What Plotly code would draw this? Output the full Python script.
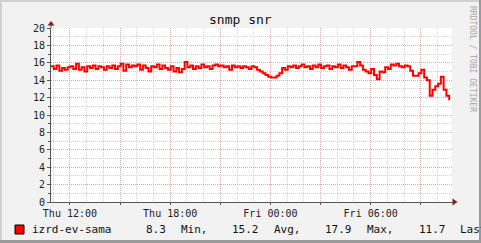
import plotly.graph_objects as go
import pandas as pd

# ---- data ----
start_time = "2024-01-04 10:52"
end_time = "2024-01-05 10:52"
step_minutes = 10
snr_values = [
    15.6, 15.3, 15.7, 15.1, 15.4, 15.2, 15.5, 15.6, 15.3, 15.9,
    15.2, 15.5, 15.0, 15.6, 15.4, 15.7, 15.3, 15.6, 15.5, 15.2,
    15.6, 15.4, 15.7, 15.3, 15.6, 15.9, 15.1, 15.8, 15.5, 15.7,
    15.6, 15.8, 15.2, 15.7, 15.4, 15.0, 15.6, 15.5, 15.8, 15.3,
    15.7, 15.4, 15.2, 15.6, 15.0, 15.4, 14.9, 15.3, 16.1, 15.5,
    15.7, 15.3, 15.6, 15.4, 15.8, 15.5, 15.6, 15.3, 15.7, 15.8,
    15.6, 15.7, 15.5, 15.6, 15.2, 15.7, 15.5, 15.6, 15.4, 15.6,
    15.5, 15.3, 15.6, 15.5, 15.2, 15.0, 14.8, 14.6, 14.4, 14.3,
    14.3, 14.5, 14.8, 15.4, 15.2, 15.6, 15.5, 15.7, 15.4, 15.6,
    15.8, 15.5, 15.6, 15.3, 15.7, 15.5, 15.8, 15.4, 15.6, 15.7,
    15.3, 15.6, 15.5, 15.8, 15.4, 15.7, 15.5, 15.2, 15.6,
    15.6, 16.1, 15.7, 15.2, 15.0, 14.8, 15.3, 14.6, 14.1, 15.0,
    14.9, 15.5, 15.3, 15.8, 15.7, 15.9, 15.6, 15.5, 15.7, 15.6,
    15.1, 14.5, 14.5, 14.8, 15.2, 14.3, 14.0, 12.2, 12.9, 13.3,
    13.6, 14.4, 12.9, 12.2, 11.7,
]
series_name = "izrd-ev-sama"
legend_parts = ["8.3", "Min,", "15.2", "Avg,", "17.9", "Max,", "11.7", "Last"]
tick_times = ["2024-01-04 12:00", "2024-01-04 15:00", "2024-01-04 18:00", "2024-01-04 21:00",
              "2024-01-05 00:00", "2024-01-05 03:00", "2024-01-05 06:00", "2024-01-05 09:00"]
tick_labels = ["Thu 12:00", "", "Thu 18:00", "", "Fri 00:00", "", "Fri 06:00", ""]
y_ticks = [0, 2, 4, 6, 8, 10, 12, 14, 16, 18, 20]

times = pd.date_range(start_time, periods=len(snr_values), freq=f"{step_minutes}min")

# ---- geometry ----
W, H = 481, 243
L, R, T, B = 51, 29, 28, 41
pw, ph = W - L - R, H - T - B

def px(x):
    return (x - L) / pw

def py(y):
    return (H - B - y) / ph

MONO = "DejaVu Sans Mono"

fig = go.Figure()
fig.add_trace(go.Scatter(
    x=times, y=snr_values, mode="lines",
    line=dict(color="#FF0000", width=2, shape="hv"),
    showlegend=False, hoverinfo="skip",
))

fig.update_layout(
    width=W, height=H,
    margin=dict(l=L, r=R, t=T, b=B),
    paper_bgcolor="#F2F2F2",
    plot_bgcolor="#FFFFFF",
    showlegend=False,
    xaxis=dict(
        range=[start_time, end_time],
        tickmode="array", tickvals=tick_times, ticktext=tick_labels,
        showgrid=True, gridcolor="#E3A5A5", griddash="1px,1px", gridwidth=1,
        minor=dict(tickmode="linear", tick0="2024-01-04 11:00", dtick=3600000,
                   showgrid=True, gridcolor="#D2D2D2", griddash="1px,1px", gridwidth=1,
                   ticks=""),
        ticks="outside", ticklen=2, tickcolor="#555555",
        showline=True, linecolor="#555555", linewidth=1,
        zeroline=False,
        tickfont=dict(family=MONO, size=10, color="#222222"),
        fixedrange=True,
    ),
    yaxis=dict(
        range=[0, 20],
        tickmode="array", tickvals=y_ticks,
        showgrid=True, gridcolor="#E3A5A5", griddash="1px,1px", gridwidth=1,
        minor=dict(tickmode="linear", tick0=0, dtick=1,
                   showgrid=True, gridcolor="#D2D2D2", griddash="1px,1px", gridwidth=1,
                   ticks="outside", ticklen=2, tickcolor="#555555"),
        ticks="outside", ticklen=3, tickcolor="#555555",
        showline=True, linecolor="#555555", linewidth=1,
        zeroline=False,
        tickfont=dict(family=MONO, size=10, color="#222222"),
        fixedrange=True,
    ),
)

shapes = []
# frame
shapes.append(dict(type="rect", xref="paper", yref="paper", x0=px(0), x1=px(W), y0=py(0), y1=py(2),
                   fillcolor="#D0D0D0", line=dict(width=0), layer="above"))
shapes.append(dict(type="rect", xref="paper", yref="paper", x0=px(0), x1=px(2), y0=py(0), y1=py(H),
                   fillcolor="#D0D0D0", line=dict(width=0), layer="above"))
shapes.append(dict(type="rect", xref="paper", yref="paper", x0=px(0), x1=px(W), y0=py(H - 3), y1=py(H),
                   fillcolor="#9A9A9A", line=dict(width=0), layer="above"))
shapes.append(dict(type="rect", xref="paper", yref="paper", x0=px(W - 2), x1=px(W), y0=py(0), y1=py(H),
                   fillcolor="#9A9A9A", line=dict(width=0), layer="above"))
# axis extensions and arrows
shapes.append(dict(type="line", xref="paper", yref="paper", x0=0, x1=0, y0=1, y1=py(24),
                   line=dict(color="#555555", width=1), layer="above"))
shapes.append(dict(type="line", xref="paper", yref="paper", x0=1, x1=px(455), y0=0, y1=0,
                   line=dict(color="#555555", width=1), layer="above"))
shapes.append(dict(type="path", xref="paper", yref="paper",
                   path=f"M {px(47.5)} {py(25.5)} L {px(54.5)} {py(25.5)} L {px(51)} {py(21)} Z",
                   fillcolor="#8B1A1A", line=dict(width=0), layer="above"))
shapes.append(dict(type="path", xref="paper", yref="paper",
                   path=f"M {px(452.5)} {py(198.5)} L {px(452.5)} {py(205.5)} L {px(457.5)} {py(202)} Z",
                   fillcolor="#8B1A1A", line=dict(width=0), layer="above"))
# legend swatch
shapes.append(dict(type="rect", xref="paper", yref="paper", x0=px(15), x1=px(24), y0=py(225), y1=py(234),
                   fillcolor="#FF0000", line=dict(color="#000000", width=1), layer="above"))
fig.update_layout(shapes=shapes)

ann = []
ann.append(dict(text="snmp snr", xref="paper", yref="paper", x=px(240.5), y=py(19.5),
                xanchor="center", yanchor="middle", showarrow=False,
                font=dict(family=MONO, size=13, color="#111111")))
ann.append(dict(text="RRDTOOL / TOBI OETIKER", xref="paper", yref="paper", x=px(472), y=py(59),
                xanchor="center", yanchor="middle", showarrow=False, textangle=90,
                font=dict(family=MONO, size=8, color="#A8A8A8")))
legend_x = [30, 144, 179, 230, 272, 323, 365, 417, 458]
for xx, txt in zip(legend_x, [series_name] + legend_parts):
    ann.append(dict(text=txt, xref="paper", yref="paper", x=px(xx), y=py(229.5),
                    xanchor="left", yanchor="middle", showarrow=False,
                    font=dict(family=MONO, size=11, color="#111111")))
fig.update_layout(annotations=ann)

fig.write_html("out.html", config={"displayModeBar": False})
